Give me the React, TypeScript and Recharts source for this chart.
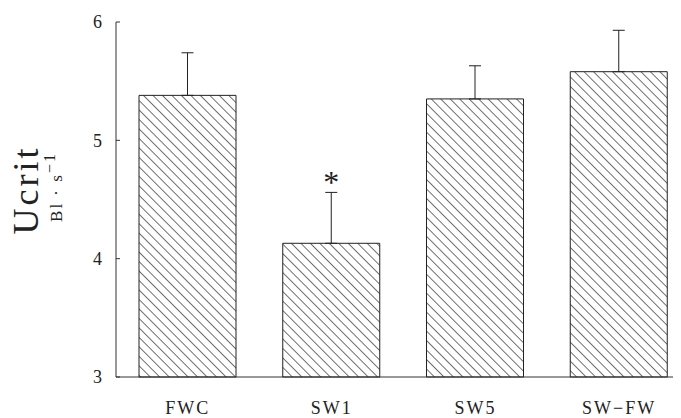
import React from "react";
import { BarChart, Bar, XAxis, YAxis, ErrorBar, LabelList, Label } from "recharts";

const categories = ["FWC", "SW1", "SW5", "SW−FW"];
const means = [5.38, 4.13, 5.35, 5.58];
const sem = [0.36, 0.43, 0.28, 0.35];
const significance = ["", "*", "", ""];
const yTicks = [3, 4, 5, 6];

const data = categories.map((c, i) => ({
  name: c,
  ucrit: means[i],
  err: [0, sem[i]],
  sig: significance[i],
}));

const SERIF = "'Liberation Serif', 'DejaVu Serif', serif";
const INK = "#333";

const YTick = (props: any) => {
  const { x, y, payload } = props;
  return (
    <g>
      <line x1={x} y1={y} x2={x + 4} y2={y} stroke={INK} strokeWidth={1} />
      <text x={x - 14} y={y} dy="0.35em" textAnchor="end" fontFamily={SERIF} fontSize={18} fill="#222">
        {payload.value}
      </text>
    </g>
  );
};

const XTick = (props: any) => {
  const { x, y, payload } = props;
  return (
    <text x={x} y={y} dy={35} textAnchor="middle" fontFamily={SERIF} fontSize={18} letterSpacing={2} fill="#222">
      {payload.value}
    </text>
  );
};

const SigLabel = (props: any) => {
  const { x, y, width, height, index } = props;
  const mark = significance[index];
  if (!mark) return null;
  const pxPerUnit = height / (means[index] - yTicks[0]);
  const top = y - sem[index] * pxPerUnit;
  return (
    <text x={x + width / 2} y={top - 17} dy="0.55em" textAnchor="middle" fontFamily={SERIF} fontSize={32} fill="#222">
      {mark}
    </text>
  );
};

const YLabel = () => (
  <g>
    <text
      x={38}
      y={190}
      transform="rotate(-90, 38, 190)"
      textAnchor="middle"
      fontFamily={SERIF}
      fontSize={36}
      letterSpacing={3}
      fill="#222"
    >
      Ucrit
    </text>
    <text
      x={62}
      y={187}
      transform="rotate(-90, 62, 187)"
      textAnchor="middle"
      fontFamily={SERIF}
      fontSize={17}
      letterSpacing={2}
      fill="#222"
    >
      Bl · s
      <tspan dy={-7} fontSize={16}>−1</tspan>
    </text>
  </g>
);

export default function App() {
  return (
    <div style={{ marginLeft: -8, marginTop: -8, width: 681, height: 418, overflow: "hidden", background: "#fff" }}>
      <BarChart width={691} height={418} data={data} margin={{ top: 22, right: 0, bottom: 11, left: 0 }}>
        <defs>
          <pattern id="hatch" patternUnits="userSpaceOnUse" width={6.7} height={6.7} patternTransform="rotate(-45)">
            <rect width={6.7} height={6.7} fill="#fff" />
            <line x1={0} y1={0} x2={0} y2={6.7} stroke="#111" strokeWidth={1.2} />
          </pattern>
        </defs>
        <XAxis
          dataKey="name"
          height={30}
          axisLine={{ stroke: INK, strokeWidth: 1 }}
          tickLine={false}
          tickSize={0}
          tick={<XTick />}
          interval={0}
        />
        <YAxis
          width={116}
          domain={[3, 6]}
          ticks={yTicks}
          axisLine={{ stroke: INK, strokeWidth: 1 }}
          tickLine={false}
          tickSize={0}
          tickMargin={0}
          tick={<YTick />}
        >
          <Label content={<YLabel />} />
        </YAxis>
        <Bar dataKey="ucrit" barSize={97} fill="url(#hatch)" stroke="#222" strokeWidth={1} isAnimationActive={false}>
          <ErrorBar dataKey="err" direction="y" width={6} stroke="#222" strokeWidth={1} isAnimationActive={false} />
          <LabelList dataKey="sig" content={<SigLabel />} />
        </Bar>
      </BarChart>
    </div>
  );
}
